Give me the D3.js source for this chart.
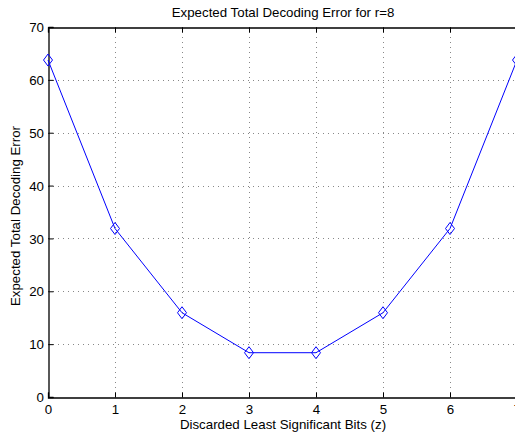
<!DOCTYPE html>
<html><head><meta charset="utf-8">
<script src="https://cdn.jsdelivr.net/npm/d3@7"></script>
<style>
html,body{margin:0;padding:0;background:#fff;overflow:hidden;}
svg{display:block;}
text{font-family:"Liberation Sans",Arial,Helvetica,sans-serif;fill:#000;}
</style></head>
<body>
<script>
const bits = [0,1,2,3,4,5,6,7];
const errors = [63.75,31.875,15.94,8.38,8.38,15.94,31.875,63.75];
const xTicks = [0,1,2,3,4,5,6,7];
const yTicks = [0,10,20,30,40,50,60,70];
const title = "Expected Total Decoding Error for r=8";
const xLabel = "Discarded Least Significant Bits (z)";
const yLabel = "Expected Total Decoding Error";

const W=515,H=432,FS=13.3;
const m={left:48,top:27,right:517,bottom:397};
const svg=d3.select("body").append("svg").attr("width",W).attr("height",H);
const x=d3.scaleLinear().domain([0,7]).range([m.left,m.right]);
const y=d3.scaleLinear().domain([0,70]).range([m.bottom,m.top]);

// grid
const g=svg.append("g");
g.selectAll(".gx").data(xTicks.slice(1,-1)).join("line")
 .attr("x1",d=>x(d)+0.5).attr("x2",d=>x(d)+0.5).attr("y1",m.top).attr("y2",m.bottom)
 .attr("stroke","#888").attr("stroke-width",1).attr("stroke-dasharray","1,4");
g.selectAll(".gy").data(yTicks.slice(1,-1)).join("line")
 .attr("y1",d=>Math.round(y(d))+0.5).attr("y2",d=>Math.round(y(d))+0.5).attr("x1",m.left).attr("x2",m.right)
 .attr("stroke","#888").attr("stroke-width",1).attr("stroke-dasharray","1,4");

// axes
const xb=svg.append("g").attr("transform",`translate(0,${m.bottom+0.5})`)
 .call(d3.axisBottom(x).tickValues(xTicks).tickSize(-5).tickPadding(7.5).tickFormat(d3.format("d")));
const xt=svg.append("g").attr("transform",`translate(0,${m.top+0.5})`)
 .call(d3.axisTop(x).tickValues(xTicks).tickSize(-5).tickFormat(""));
const yl=svg.append("g").attr("transform",`translate(${m.left+0.5},0)`)
 .call(d3.axisLeft(y).tickValues(yTicks).tickSize(-5).tickPadding(4.5).tickFormat(d3.format("d")));
[xb,xt,yl].forEach(a=>{
  a.select(".domain").attr("stroke","#000").attr("stroke-width",1.3);
  a.selectAll(".tick line").attr("stroke","#000");
  a.selectAll("text").attr("font-size",FS).style("font-family","'Liberation Sans',Arial,sans-serif");
});
yl.selectAll(".tick text").attr("dy","0.35em");

// line
svg.append("path").datum(bits)
 .attr("d",d3.line().x(d=>x(d)).y((d,i)=>y(errors[i])))
 .attr("fill","none").attr("stroke","#0000ff").attr("stroke-width",1);
svg.selectAll(".mk").data(bits).join("path")
 .attr("transform",(d,i)=>`translate(${x(d)},${y(errors[i])})`)
 .attr("d","M0,-6L4.5,0L0,6L-4.5,0Z")
 .attr("fill","none").attr("stroke","#0000ff").attr("stroke-width",1);

// labels
svg.append("text").attr("x",283).attr("y",17).attr("text-anchor","middle").attr("font-size",FS).text(title);
svg.append("text").attr("x",283).attr("y",429).attr("text-anchor","middle").attr("font-size",FS).text(xLabel);
svg.append("text").attr("transform","translate(20,216) rotate(-90)").attr("text-anchor","middle").attr("font-size",FS).text(yLabel);
</script>
</body></html>
